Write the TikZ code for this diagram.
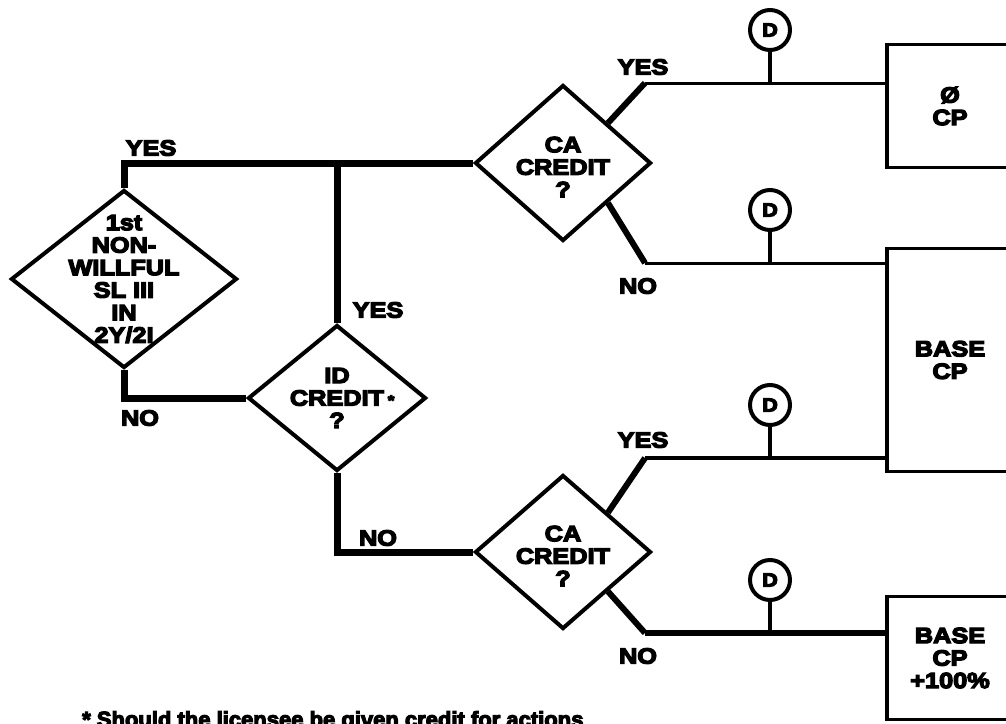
\documentclass[tikz,border=0pt]{standalone}
\usepackage{fontspec}
\setmainfont{Liberation Sans}[BoldFeatures={FakeStretch=1.15,FakeBold=6}]
\newfontfamily\fnb{Liberation Sans}[BoldFeatures={FakeBold=5}]
\usetikzlibrary{shapes.geometric}
\tikzset{
  dia/.style={draw, diamond, line width=4pt, inner sep=0pt, line join=miter},
  dtxt/.style={align=center, font=\bfseries\fontsize{22}{22.5}\selectfont, inner sep=0pt},
  lbl/.style={font=\bfseries\fontsize{22}{22}\selectfont, inner sep=0pt},
  box/.style={draw, rectangle, line width=3.5pt, minimum width=126pt, inner sep=0pt, align=center,
              font=\bfseries\fontsize{22}{22.5}\selectfont},
  dnode/.style={draw, circle, line width=4pt, minimum size=40pt, inner sep=0pt,
              font=\bfseries\fontsize{19}{19}\selectfont},
  heavy/.style={line width=7pt, line join=miter},
  diag/.style={line width=6pt},
  feed/.style={line width=3pt},
  stem/.style={line width=4pt},
}
\begin{document}
\begin{tikzpicture}[x=1pt,y=-1pt]
\useasboundingbox (0,0) rectangle (1006,723);
\clip (0,0) rectangle (1006,723);

% decision diamonds
\node[dia, minimum width=226pt, minimum height=178pt] (q1) at (124,279) {};
\node[dtxt] at (q1) {1st\\NON-\\WILLFUL\\SL III\\IN\\2Y/2I};
\node[dia, minimum width=178pt, minimum height=146pt] (id) at (337,398) {};
\node[dtxt] at (id) {ID\\CREDIT\rlap{\,{\fontsize{15}{15}\selectfont *}}\\?};
\node[dia, minimum width=176pt, minimum height=156pt] (ca1) at (563,163) {};
\node[dtxt, yshift=-4pt] at (ca1) {CA\\CREDIT\\?};
\node[dia, minimum width=176pt, minimum height=154pt] (ca2) at (563,552) {};
\node[dtxt, yshift=-4pt] at (ca2) {CA\\CREDIT\\?};

% result boxes
\node[box, minimum height=123pt] (b1) at (950,106) {Ø\\CP};
\node[box, minimum height=223pt] (b2) at (950,360) {BASE\\CP};
\node[box, minimum height=123pt] (b3) at (950,658) {BASE\\CP\\+100\%};

% main connectors
\draw[heavy] (q1.north) -- (q1.north |- ca1.west) -- (ca1.west);
\draw[heavy] (id.north) -- (id.north |- ca1.west);
\draw[heavy] (q1.south) -- (q1.south |- id.west) -- (id.west);
\draw[heavy] (id.south) -- (id.south |- ca2.west) -- (ca2.west);

% branch corners
\coordinate (k1) at (645,83);
\coordinate (k2) at (645,263);
\coordinate (k3) at (645,458);
\coordinate (k4) at (645,633);
\draw[diag] (ca1.north east) -- (k1);
\draw[diag] (ca1.south east) -- (k2);
\draw[diag] (ca2.north east) -- (k3);
\draw[diag] (ca2.south east) -- (k4);
\draw[feed] (k1) -- (k1 -| b1.west);
\draw[feed] (k2) -- (k2 -| b2.west);
\draw[line width=4pt] (k3) -- (k3 -| b2.west);
\draw[line width=6pt] (k4) -- (k4 -| b3.west);

% D markers
\node[dnode] (D1) at (770,30) {D};
\node[dnode] (D2) at (770,210) {D};
\node[dnode] (D3) at (770,405) {D};
\node[dnode] (D4) at (770,580) {D};
\draw[stem] (D1.south) -- (D1.south |- k1);
\draw[stem] (D2.south) -- (D2.south |- k2);
\draw[stem] (D3.south) -- (D3.south |- k3);
\draw[stem] (D4.south) -- (D4.south |- k4);

% labels
\node[lbl] (l1) at (151,148) {YES};
\node[lbl] (l2) at (140,418) {NO};
\node[lbl] (l3) at (378,310) {YES};
\node[lbl] (l4) at (378,538) {NO};
\node[lbl] (l5) at (643,67) {YES};
\node[lbl] (l6) at (638,286) {NO};
\node[lbl] (l7) at (643,440) {YES};
\node[lbl] (l8) at (638,656) {NO};

% footnote (cut by the lower edge, as in the reference)
\node[anchor=base west, inner sep=0pt, font=\fnb\bfseries\fontsize{22}{22}\selectfont] (fn) at (82,727)
  {* Should the licensee be given credit for actions};
\end{tikzpicture}
\end{document}
